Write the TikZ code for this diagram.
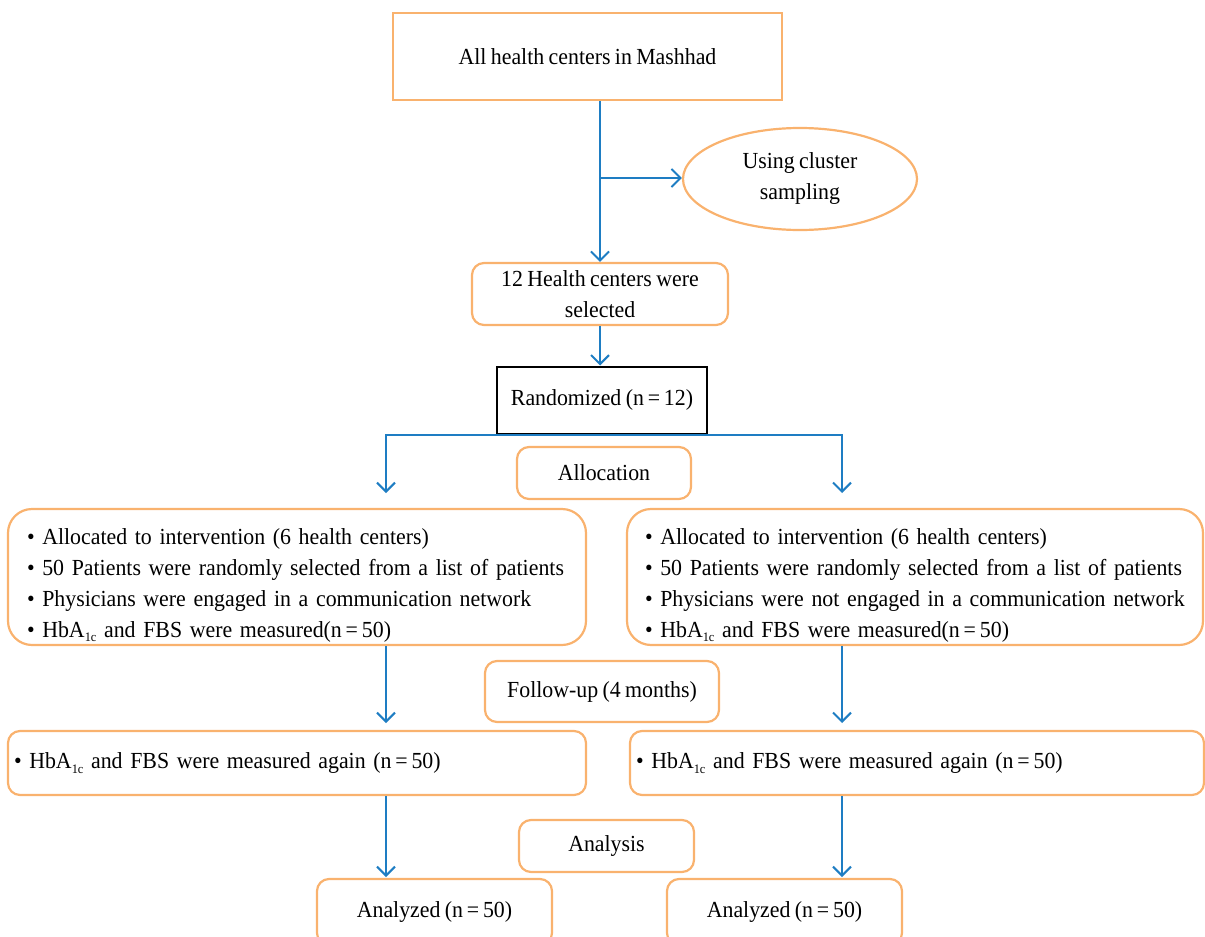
\documentclass[tikz,border=0pt]{standalone}
\usepackage{fontspec}
\setmainfont{Liberation Serif}[FakeStretch=0.95,WordSpace=0.8]
\usetikzlibrary{arrows.meta,shapes.geometric,calc}
\definecolor{boxorange}{RGB}{249,178,110}
\definecolor{lineblue}{RGB}{30,125,195}
\newcommand{\hba}{HbA\raisebox{-0.45ex}{\fontsize{6.5}{6.5}\selectfont 1c}}
\begin{document}
\begin{tikzpicture}[x=0.5pt,y=-0.5pt,
  every node/.style={font=\fontsize{11.5}{15.5}\selectfont, inner sep=0pt},
  obox/.style={draw=boxorange, line width=1.1pt, minimum width=#1},
  rbox/.style={obox=#1, rounded corners=6pt},
  listbox/.style={draw=boxorange, line width=1.1pt, align=left},
  arr/.style={draw=lineblue, line width=1pt, -{Straight Barb[length=4.5pt,width=9pt,line width=1pt]}}]
\clip (0,0) rectangle (1205,937);
\useasboundingbox (0,0) rectangle (1205,937);

\node[obox=194.5pt, minimum height=43.5pt] (top) at (587.5,56.5) {All health centers in Mashhad};
\node[draw=boxorange, line width=1.1pt, ellipse, minimum width=117pt, minimum height=51pt, align=center] (ell) at (800,179) {Using cluster\\sampling};
\node[rbox=128pt, minimum height=31pt, align=center] (sel) at (600,294) {12 Health centers were\\selected};
\node[draw=black, line width=1pt, minimum width=105pt, minimum height=33.5pt] (rand) at (602,400) {Randomized (n\,=\,12)};
\node[rbox=87pt, minimum height=26pt] (alloc) at (604,473) {Allocation};

\node[listbox, rounded corners=12pt, inner xsep=9.5pt, text width=270pt, minimum height=68pt] (L1) at (297,577) {%
\mbox{\rule{0pt}{16pt}\textbullet\ Allocated to intervention (6 health centers)}\\
\mbox{\textbullet\ 50 Patients were randomly selected from a list of patients}\\
\mbox{\textbullet\ Physicians were engaged in a communication network}\\
\mbox{\textbullet\ \hba{} and FBS were measured(n\,=\,50)}};
\node[listbox, rounded corners=12pt, inner xsep=9pt, text width=270pt, minimum height=68pt] (R1) at (915,577) {%
\mbox{\rule{0pt}{16pt}\textbullet\ Allocated to intervention (6 health centers)}\\
\mbox{\textbullet\ 50 Patients were randomly selected from a list of patients}\\
\mbox{\textbullet\ Physicians were not engaged in a communication network}\\
\mbox{\textbullet\ \hba{} and FBS were measured(n\,=\,50)}};

\node[rbox=117pt, minimum height=30.5pt] (follow) at (602,691.5) {Follow-up (4 months)};

\node[listbox, rounded corners=6pt, inner xsep=3pt, text width=283pt, minimum height=32pt] (L2) at (297,763) {\mbox{\textbullet\ \hba{} and FBS were measured again (n\,=\,50)}};
\node[listbox, rounded corners=6pt, inner xsep=3pt, text width=281pt, minimum height=32pt] (R2) at (917,763) {\mbox{\textbullet\ \hba{} and FBS were measured again (n\,=\,50)}};

\node[rbox=87.5pt, minimum height=26pt] (anal) at (606.5,846) {Analysis};
\node[rbox=117.5pt, minimum height=33pt] (AL) at (434.5,912) {Analyzed (n\,=\,50)};
\node[rbox=117.5pt, minimum height=33pt] (AR) at (784.5,912) {Analyzed (n\,=\,50)};

\coordinate (br) at (600,178);
\coordinate (aL) at (386,493);
\coordinate (aR) at (842,493);
\coordinate (bL) at (386,723);
\coordinate (bR) at (842,723);
\coordinate (cL) at (386,877);
\coordinate (cR) at (842,877);

\draw[arr] (top.south -| sel.north) -- (sel.north);
\draw[arr] (br) -- (br -| ell.west);
\draw[arr] (sel.south) -- (sel.south |- rand.north);
\draw[arr] (rand.south) -| (aL);
\draw[arr] (rand.south) -| (aR);
\draw[arr] (L1.south -| bL) -- (bL);
\draw[arr] (R1.south -| bR) -- (bR);
\draw[arr] (L2.south -| cL) -- (cL);
\draw[arr] (R2.south -| cR) -- (cR);
\end{tikzpicture}
\end{document}
